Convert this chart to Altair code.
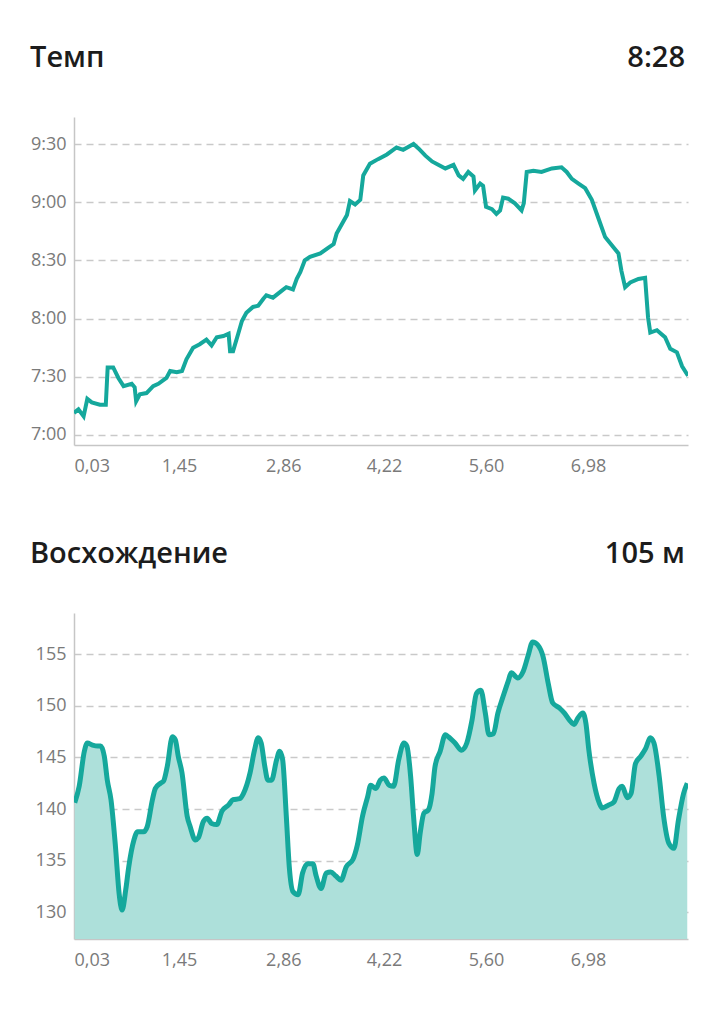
import altair as alt
import pandas as pd

# ---- Data ----
pace_km = [0.03, 0.09, 0.16, 0.21, 0.27, 0.38, 0.46, 0.485, 0.56, 0.63, 0.70, 0.81, 0.85, 0.87,
           0.92, 1.01, 1.10, 1.17, 1.28, 1.33, 1.42, 1.49, 1.55, 1.64, 1.73, 1.82, 1.89, 1.96,
           2.05, 2.12, 2.14, 2.18, 2.25, 2.30, 2.36, 2.45, 2.52, 2.59, 2.63, 2.72, 2.84, 2.90,
           2.99, 3.04, 3.09, 3.15, 3.22, 3.36, 3.47, 3.54, 3.58, 3.65, 3.72, 3.76, 3.83, 3.90,
           3.94, 4.03, 4.14, 4.26, 4.39, 4.48, 4.62, 4.69, 4.78, 4.87, 4.96, 5.05, 5.16, 5.23,
           5.29, 5.36, 5.43, 5.45, 5.52, 5.56, 5.60, 5.68, 5.74, 5.79, 5.83, 5.90, 5.99, 6.08,
           6.11, 6.15, 6.24, 6.35, 6.49, 6.62, 6.69, 6.76, 6.85, 6.94, 7.03, 7.12, 7.21, 7.30,
           7.39, 7.43, 7.48, 7.55, 7.66, 7.75, 7.79, 7.82, 7.91, 8.02, 8.09, 8.18, 8.25, 8.33]
pace_min = [7.19, 7.22, 7.16, 7.31, 7.28, 7.26, 7.26, 7.58, 7.58, 7.49, 7.42, 7.44, 7.41, 7.29,
            7.35, 7.36, 7.42, 7.44, 7.49, 7.55, 7.54, 7.55, 7.65, 7.75, 7.78, 7.82, 7.77, 7.84,
            7.85, 7.87, 7.72, 7.72, 7.87, 7.98, 8.05, 8.10, 8.11, 8.17, 8.20, 8.18, 8.24, 8.27,
            8.25, 8.34, 8.40, 8.50, 8.53, 8.56, 8.61, 8.64, 8.73, 8.81, 8.89, 9.01, 8.98, 9.02,
            9.23, 9.33, 9.37, 9.41, 9.47, 9.45, 9.50, 9.46, 9.40, 9.35, 9.32, 9.29, 9.32, 9.23,
            9.20, 9.26, 9.22, 9.10, 9.16, 9.14, 8.96, 8.94, 8.90, 8.93, 9.04, 9.03, 8.99, 8.93,
            8.99, 9.26, 9.27, 9.26, 9.29, 9.30, 9.26, 9.20, 9.16, 9.12, 9.02, 8.86, 8.70, 8.63,
            8.56, 8.41, 8.27, 8.31, 8.34, 8.35, 8.01, 7.88, 7.90, 7.84, 7.74, 7.71, 7.59, 7.51]

elev_km = [0.04, 0.10, 0.17, 0.21, 0.28, 0.35, 0.39, 0.44, 0.48, 0.53, 0.59, 0.64, 0.68, 0.73,
           0.77, 0.84, 0.89, 0.97, 1.02, 1.09, 1.13, 1.20, 1.24, 1.29, 1.36, 1.40, 1.44, 1.49,
           1.56, 1.60, 1.67, 1.71, 1.78, 1.83, 1.89, 1.96, 2.03, 2.12, 2.18, 2.27, 2.32, 2.41,
           2.47, 2.52, 2.56, 2.61, 2.65, 2.70, 2.77, 2.81, 2.85, 2.90, 2.94, 2.99, 3.06, 3.12,
           3.19, 3.26, 3.30, 3.37, 3.44, 3.50, 3.57, 3.64, 3.71, 3.80, 3.86, 3.93, 4.00, 4.04,
           4.11, 4.17, 4.22, 4.29, 4.35, 4.42, 4.49, 4.53, 4.58, 4.62, 4.67, 4.71, 4.76, 4.82,
           4.87, 4.91, 4.98, 5.05, 5.09, 5.18, 5.27, 5.34, 5.41, 5.47, 5.53, 5.59, 5.64, 5.70,
           5.76, 5.83, 5.90, 5.94, 6.03, 6.10, 6.17, 6.23, 6.30, 6.37, 6.44, 6.50, 6.59, 6.66,
           6.73, 6.79, 6.84, 6.91, 6.95, 6.99, 7.06, 7.13, 7.17, 7.26, 7.33, 7.40, 7.44, 7.51,
           7.56, 7.62, 7.69, 7.76, 7.82, 7.87, 7.94, 8.00, 8.07, 8.14, 8.20, 8.27, 8.32]
elev_m = [140.6, 142.2, 145.6, 146.4, 146.2, 146.1, 146.1, 145.1, 142.8, 140.9, 136.4, 131.8,
          130.2, 132.2, 134.4, 137.0, 137.8, 137.8, 138.3, 140.9, 142.0, 142.5, 142.7, 144.1,
          147.0, 146.7, 145.1, 143.5, 139.3, 138.3, 137.0, 137.2, 138.8, 139.1, 138.6, 138.5,
          139.8, 140.4, 140.9, 141.0, 141.5, 143.5, 145.7, 146.9, 146.4, 144.1, 142.8, 142.8,
          144.8, 145.6, 144.8, 139.3, 134.4, 132.0, 131.7, 133.8, 134.7, 134.7, 133.6, 132.3,
          133.8, 133.9, 133.5, 133.1, 134.4, 135.1, 136.5, 139.3, 141.2, 142.3, 142.0, 142.8,
          143.0, 142.3, 142.2, 144.8, 146.4, 146.1, 143.2, 139.3, 135.6, 137.7, 139.6, 139.9,
          141.5, 144.1, 145.6, 147.2, 147.0, 146.4, 145.7, 146.4, 148.6, 151.2, 151.5, 149.3,
          147.2, 147.3, 149.3, 150.9, 152.4, 153.2, 152.7, 153.3, 154.9, 156.2, 155.9, 154.8,
          152.2, 150.3, 149.8, 149.3, 148.6, 148.2, 148.8, 149.3, 148.3, 145.7, 142.5, 140.6,
          140.1, 140.4, 140.7, 142.0, 142.2, 141.1, 141.5, 144.4, 145.1, 145.9, 146.9, 146.4,
          143.2, 139.3, 136.7, 136.2, 138.9, 141.5, 142.5]

x_ticks = [0.03, 1.45, 2.86, 4.22, 5.60, 6.98]
pace_ticks = [7.0, 7.5, 8.0, 8.5, 9.0, 9.5]
elev_ticks = [130, 135, 140, 145, 150, 155]

title_pace, value_pace = "Темп", "8:28"
title_elev, value_elev = "Восхождение", "105 м"

# ---- Styling ----
TEAL = "#15a89c"
FILL = "#ade0da"
FONT = "Open Sans"
LABEL = "#7a7a7a"
GRID = "#c9c9c9"
DOMAIN = "#c6c6c6"
HEAD_SIZE = 29

X_DOMAIN = [0.03, 8.33]
km_label = "replace(format(datum.value, '.2f'), '.', ',')"
pace_label = ("floor(datum.value) + ':' + (round((datum.value % 1) * 60) < 10 ? '0' : '') "
              "+ round((datum.value % 1) * 60)")


def x_axis():
    return alt.Axis(values=x_ticks, labelExpr=km_label, grid=False, ticks=False,
                    domain=True, domainColor=DOMAIN, domainWidth=1.5, labelFont=FONT,
                    labelFontSize=18, labelColor=LABEL, labelPadding=12, labelFlush=True,
                    labelOverlap=False, title=None)


def y_axis(values, expr=None):
    kw = dict(values=values, grid=True, gridDash=[7, 5], gridColor=GRID, gridWidth=1.3,
              ticks=False, domain=True, domainColor=DOMAIN, domainWidth=1.5, labelFont=FONT,
              labelFontSize=18, labelColor=LABEL, labelPadding=8, title=None)
    if expr:
        kw["labelExpr"] = expr
    return alt.Axis(**kw)


def header(left, right, width):
    t1 = alt.Chart(pd.DataFrame({"t": [left]})).mark_text(
        font=FONT, fontSize=HEAD_SIZE, fontWeight=600, color="#1c1c1c", align="left",
        baseline="alphabetic").encode(text="t:N", x=alt.value(-44), y=alt.value(-50))
    t2 = alt.Chart(pd.DataFrame({"t": [right]})).mark_text(
        font=FONT, fontSize=HEAD_SIZE, fontWeight=600, color="#1c1c1c", align="right",
        baseline="alphabetic").encode(text="t:N", x=alt.value(width - 3), y=alt.value(-50))
    return t1 + t2


W, H1, H2 = 614, 328, 326
NO_STROKE = alt.ViewBackground(stroke="transparent", strokeWidth=0)

pace_df = pd.DataFrame({"km": pace_km, "pace": pace_min})
elev_df = pd.DataFrame({"km": elev_km, "elev": elev_m})

pace_line = alt.Chart(pace_df).mark_line(color=TEAL, strokeWidth=4, clip=True).encode(
    x=alt.X("km:Q", scale=alt.Scale(domain=X_DOMAIN, nice=False, zero=False), axis=x_axis()),
    y=alt.Y("pace:Q", scale=alt.Scale(domain=[6.914, 9.732], nice=False, zero=False),
            axis=y_axis(pace_ticks, pace_label)),
)
top = alt.layer(pace_line, header(title_pace, value_pace, W)).properties(
    width=W, height=H1, view=NO_STROKE)

elev_x = alt.X("km:Q", scale=alt.Scale(domain=X_DOMAIN, nice=False, zero=False), axis=x_axis())
elev_y = alt.Y("elev:Q", scale=alt.Scale(domain=[127.4, 159.0], nice=False, zero=False),
               axis=y_axis(elev_ticks))
elev_area = alt.Chart(elev_df).mark_area(color=FILL, interpolate="monotone", clip=True).encode(
    x=elev_x, y=elev_y, y2=alt.value(H2))
elev_line = alt.Chart(elev_df).mark_line(color=TEAL, strokeWidth=5, interpolate="monotone",
                                         clip=True).encode(x=elev_x, y=elev_y)
bottom = alt.layer(elev_area, elev_line, header(title_elev, value_elev, W)).properties(
    width=W, height=H2, view=NO_STROKE)

chart = alt.vconcat(top, bottom, spacing=65).properties(
    padding={"top": 36, "left": 22, "right": 5, "bottom": 5}
).configure_view(stroke="transparent", strokeWidth=0).configure(background="white")

chart.save("out.html", embed_options={"renderer": "svg", "actions": False})
